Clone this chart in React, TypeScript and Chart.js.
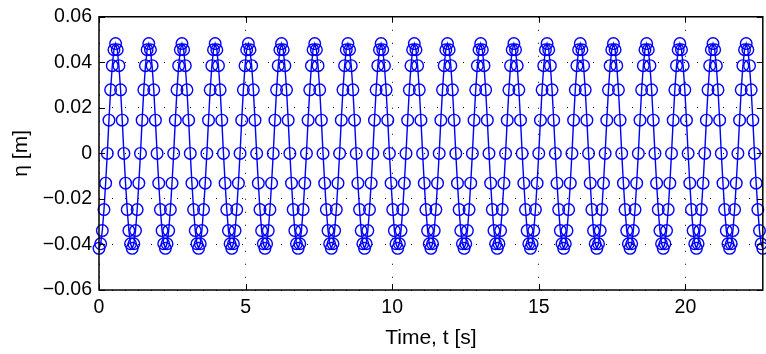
import React, { useEffect, useRef } from "react";
import { Chart, registerables } from "chart.js";

Chart.register(...registerables);

// sampling step of the record (s)
const SAMPLE_STEP = 0.0566;
const X_MAX = 22.64;

// surface elevation eta [m] (20 samples per wave period)
const etaValues: number[] = [
  -0.0417, -0.0397, -0.0339, -0.0247, -0.0131, 0.0, 0.0146, 0.0279, 0.0385, 0.0455, 0.0482, 0.0455, 0.0385, 0.0279, 0.0146, 0.0, -0.0131, -0.0247, -0.0339, -0.0397,
  -0.0417, -0.0397, -0.0339, -0.0247, -0.0131, 0.0, 0.0146, 0.0279, 0.0385, 0.0455, 0.0482, 0.0455, 0.0385, 0.0279, 0.0146, 0.0, -0.0131, -0.0247, -0.0339, -0.0397,
  -0.0417, -0.0397, -0.0339, -0.0247, -0.0131, 0.0, 0.0146, 0.0279, 0.0385, 0.0455, 0.0482, 0.0455, 0.0385, 0.0279, 0.0146, 0.0, -0.0131, -0.0247, -0.0339, -0.0397,
  -0.0417, -0.0397, -0.0339, -0.0247, -0.0131, 0.0, 0.0146, 0.0279, 0.0385, 0.0455, 0.0482, 0.0455, 0.0385, 0.0279, 0.0146, 0.0, -0.0131, -0.0247, -0.0339, -0.0397,
  -0.0417, -0.0397, -0.0339, -0.0247, -0.0131, 0.0, 0.0146, 0.0279, 0.0385, 0.0455, 0.0482, 0.0455, 0.0385, 0.0279, 0.0146, 0.0, -0.0131, -0.0247, -0.0339, -0.0397,
  -0.0417, -0.0397, -0.0339, -0.0247, -0.0131, 0.0, 0.0146, 0.0279, 0.0385, 0.0455, 0.0482, 0.0455, 0.0385, 0.0279, 0.0146, 0.0, -0.0131, -0.0247, -0.0339, -0.0397,
  -0.0417, -0.0397, -0.0339, -0.0247, -0.0131, 0.0, 0.0146, 0.0279, 0.0385, 0.0455, 0.0482, 0.0455, 0.0385, 0.0279, 0.0146, 0.0, -0.0131, -0.0247, -0.0339, -0.0397,
  -0.0417, -0.0397, -0.0339, -0.0247, -0.0131, 0.0, 0.0146, 0.0279, 0.0385, 0.0455, 0.0482, 0.0455, 0.0385, 0.0279, 0.0146, 0.0, -0.0131, -0.0247, -0.0339, -0.0397,
  -0.0417, -0.0397, -0.0339, -0.0247, -0.0131, 0.0, 0.0146, 0.0279, 0.0385, 0.0455, 0.0482, 0.0455, 0.0385, 0.0279, 0.0146, 0.0, -0.0131, -0.0247, -0.0339, -0.0397,
  -0.0417, -0.0397, -0.0339, -0.0247, -0.0131, 0.0, 0.0146, 0.0279, 0.0385, 0.0455, 0.0482, 0.0455, 0.0385, 0.0279, 0.0146, 0.0, -0.0131, -0.0247, -0.0339, -0.0397,
  -0.0417, -0.0397, -0.0339, -0.0247, -0.0131, 0.0, 0.0146, 0.0279, 0.0385, 0.0455, 0.0482, 0.0455, 0.0385, 0.0279, 0.0146, 0.0, -0.0131, -0.0247, -0.0339, -0.0397,
  -0.0417, -0.0397, -0.0339, -0.0247, -0.0131, 0.0, 0.0146, 0.0279, 0.0385, 0.0455, 0.0482, 0.0455, 0.0385, 0.0279, 0.0146, 0.0, -0.0131, -0.0247, -0.0339, -0.0397,
  -0.0417, -0.0397, -0.0339, -0.0247, -0.0131, 0.0, 0.0146, 0.0279, 0.0385, 0.0455, 0.0482, 0.0455, 0.0385, 0.0279, 0.0146, 0.0, -0.0131, -0.0247, -0.0339, -0.0397,
  -0.0417, -0.0397, -0.0339, -0.0247, -0.0131, 0.0, 0.0146, 0.0279, 0.0385, 0.0455, 0.0482, 0.0455, 0.0385, 0.0279, 0.0146, 0.0, -0.0131, -0.0247, -0.0339, -0.0397,
  -0.0417, -0.0397, -0.0339, -0.0247, -0.0131, 0.0, 0.0146, 0.0279, 0.0385, 0.0455, 0.0482, 0.0455, 0.0385, 0.0279, 0.0146, 0.0, -0.0131, -0.0247, -0.0339, -0.0397,
  -0.0417, -0.0397, -0.0339, -0.0247, -0.0131, 0.0, 0.0146, 0.0279, 0.0385, 0.0455, 0.0482, 0.0455, 0.0385, 0.0279, 0.0146, 0.0, -0.0131, -0.0247, -0.0339, -0.0397,
  -0.0417, -0.0397, -0.0339, -0.0247, -0.0131, 0.0, 0.0146, 0.0279, 0.0385, 0.0455, 0.0482, 0.0455, 0.0385, 0.0279, 0.0146, 0.0, -0.0131, -0.0247, -0.0339, -0.0397,
  -0.0417, -0.0397, -0.0339, -0.0247, -0.0131, 0.0, 0.0146, 0.0279, 0.0385, 0.0455, 0.0482, 0.0455, 0.0385, 0.0279, 0.0146, 0.0, -0.0131, -0.0247, -0.0339, -0.0397,
  -0.0417, -0.0397, -0.0339, -0.0247, -0.0131, 0.0, 0.0146, 0.0279, 0.0385, 0.0455, 0.0482, 0.0455, 0.0385, 0.0279, 0.0146, 0.0, -0.0131, -0.0247, -0.0339, -0.0397,
  -0.0417, -0.0397, -0.0339, -0.0247, -0.0131, 0.0, 0.0146, 0.0279, 0.0385, 0.0455, 0.0482, 0.0455, 0.0385, 0.0279, 0.0146, 0.0, -0.0131, -0.0247, -0.0339, -0.0397,
  -0.0417,
];

const xTicks = [0, 5, 10, 15, 20];
const xTickLabels = ["0", "5", "10", "15", "20"];
const yTicks = [-0.06, -0.04, -0.02, 0, 0.02, 0.04, 0.06];
const yTickLabels = ["\u22120.06", "\u22120.04", "\u22120.02", "0", "0.02", "0.04", "0.06"];

const FONT_FAMILY = "'Liberation Sans', Arial, Helvetica, sans-serif";

const boxPlugin = {
  id: "matlabBox",
  afterDraw(chart: any) {
    const { ctx, chartArea: a, scales } = chart;
    const x = scales.x;
    const y = scales.y;
    ctx.save();
    ctx.strokeStyle = "#000";
    ctx.lineWidth = 1.5;
    ctx.strokeRect(a.left, a.top, a.right - a.left, a.bottom - a.top);
    ctx.lineWidth = 1;
    ctx.beginPath();
    for (const v of xTicks) {
      const px = Math.round(x.getPixelForValue(v)) + 0.5;
      ctx.moveTo(px, a.bottom);
      ctx.lineTo(px, a.bottom - 6);
      ctx.moveTo(px, a.top);
      ctx.lineTo(px, a.top + 6);
    }
    for (const v of yTicks) {
      const py = Math.round(y.getPixelForValue(v)) + 0.5;
      ctx.moveTo(a.left, py);
      ctx.lineTo(a.left + 6, py);
      ctx.moveTo(a.right, py);
      ctx.lineTo(a.right - 6, py);
    }
    ctx.stroke();
    ctx.restore();
  },
};

export default function App() {
  const canvasRef = useRef<HTMLCanvasElement | null>(null);

  useEffect(() => {
    const canvas = canvasRef.current;
    if (!canvas) return;
    const points = etaValues.map((v, i) => ({ x: i * SAMPLE_STEP, y: v }));
    const tickFont = { family: FONT_FAMILY, size: 19.5, lineHeight: 1 };
    const titleFont = { family: FONT_FAMILY, size: 21, lineHeight: 1.2 };
    const chart = new Chart(canvas, {
      type: "line",
      data: {
        datasets: [
          {
            data: points,
            borderColor: "#0000ff",
            borderWidth: 1.4,
            pointRadius: 5.8,
            pointBorderWidth: 1.4,
            pointBorderColor: "#0000ff",
            pointBackgroundColor: "rgba(0,0,0,0)",
            pointStyle: "circle",
            tension: 0,
            fill: false,
            clip: false as any,
          },
        ],
      },
      options: {
        animation: false,
        responsive: false,
        devicePixelRatio: 1,
        layout: { padding: { top: 10, right: 3, left: 0, bottom: 0 } },
        plugins: { legend: { display: false }, tooltip: { enabled: false } },
        scales: {
          x: {
            type: "linear",
            min: 0,
            max: X_MAX,
            afterBuildTicks: (s: any) => {
              s.ticks = xTicks.map((v) => ({ value: v }));
            },
            afterFit: (s: any) => {
              s.height = 64;
            },
            grid: { color: "#000", lineWidth: 1, drawTicks: false, tickLength: 0 },
            border: { display: false, dash: [1, 12] },
            ticks: {
              font: tickFont,
              color: "#000",
              padding: 8,
              maxRotation: 0,
              autoSkip: false,
              callback: (_v: any, i: number) => xTickLabels[i],
            },
            title: {
              display: true,
              text: "Time, t [s]",
              color: "#000",
              font: titleFont,
              padding: { top: 0, bottom: 3.5 },
            },
          },
          y: {
            type: "linear",
            min: -0.06,
            max: 0.06,
            afterBuildTicks: (s: any) => {
              s.ticks = yTicks.map((v) => ({ value: v }));
            },
            afterFit: (s: any) => {
              s.width = 99;
            },
            grid: { color: "#000", lineWidth: 1, drawTicks: false, tickLength: 0 },
            border: { display: false, dash: [1, 12] },
            ticks: {
              font: tickFont,
              color: "#000",
              padding: 7,
              autoSkip: false,
              callback: (_v: any, i: number) => yTickLabels[i],
            },
            title: {
              display: true,
              text: "\u03b7 [m]",
              color: "#000",
              font: titleFont,
              padding: { top: 9, bottom: 0 },
            },
          },
        },
      },
      plugins: [boxPlugin],
    });
    return () => chart.destroy();
  }, []);

  return (
    <div
      style={{
        position: "fixed",
        left: 0,
        top: 0,
        width: 766,
        height: 354,
        overflow: "hidden",
        background: "#fff",
      }}
    >
      <canvas ref={canvasRef} width={770} height={354} style={{ width: 770, height: 354, display: "block" }} />
    </div>
  );
}
